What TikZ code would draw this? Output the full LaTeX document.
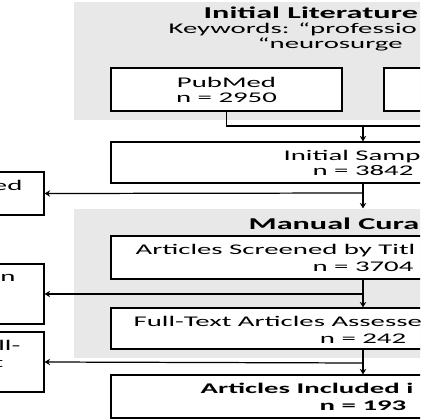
\documentclass[tikz,border=0pt]{standalone}
\usepackage{fontspec}
\setmainfont{Carlito}[FakeStretch=1.95]
\usetikzlibrary{arrows.meta, positioning, calc}

\begin{document}
\begin{tikzpicture}[x=0.02cm, y=-0.02cm, >={Stealth[length=1.1mm, width=1.3mm]}, line width=0.7pt,
    box/.style={draw, fill=white, inner sep=0pt},
    stage/.style={fill=stagegray, inner sep=0pt},
    lbl/.style={inner sep=0pt, font=\fontsize{8.4}{9}\selectfont},
    head/.style={inner sep=0pt, font=\fontsize{9.4}{10}\selectfont\bfseries}]
    \definecolor{stagegray}{HTML}{E8E8E8}

    \useasboundingbox (0,0) rectangle (420,420);
    \clip (0,0) rectangle (420,420);

    % -------------------------------------------------------------
    % Initial literature search
    % -------------------------------------------------------------
    \node[stage, minimum width=11.56cm, minimum height=2.36cm] (search) at (363,61) {};
    \node[head, anchor=base west] (searchT) at (203,18) {Initial Literature};
    \node[lbl, anchor=base west] (kw1) at (168,33) {Keywords: “professio};
    \node[lbl, anchor=base west] (kw2) at (257,48) {“neurosurge};

    \node[box, minimum width=4.62cm, minimum height=0.86cm] (pubmed) at (226.5,89.5) {};
    \node[lbl, anchor=base] (pubmedA) at (226.5,87) {PubMed};
    \node[lbl, anchor=base] (pubmedB) at (226.5,102) {n = 2950};
    \node[box, minimum width=4.62cm, minimum height=0.86cm] (db2) at (499.5,89.5) {};

    \node[box, minimum width=10.08cm, minimum height=0.82cm] (init) at (363,162.5) {};
    \node[lbl, anchor=base west] (initA) at (283,160) {Initial Samp};
    \node[lbl, anchor=base] (initB) at (363,175) {n = 3842};

    \coordinate (join) at (363,126);
    \draw (pubmed.south) |- (join) -| (db2.south);
    \draw[->] (join) -- (init.north);

    % -------------------------------------------------------------
    % Exclusion boxes (left)
    % -------------------------------------------------------------
    \node[box, minimum width=3.88cm, minimum height=0.86cm] (ex1) at (-53,193.5) {};
    \node[lbl, anchor=base east] (ex1T) at (23,190) {ed};
    \node[box, minimum width=3.88cm, minimum height=1.2cm] (ex2) at (-53,294) {};
    \node[lbl, anchor=base east] (ex2T) at (16,281) {en};
    \node[box, minimum width=3.88cm, minimum height=1.2cm] (ex3) at (-53,362) {};
    \node[lbl, anchor=base east] (ex3A) at (21,350) {ll-};
    \node[lbl, anchor=base east] (ex3B) at (4,367) {t};

    % -------------------------------------------------------------
    % Manual curation
    % -------------------------------------------------------------
    \node[stage, minimum width=11.56cm, minimum height=2.98cm] (cur) at (363,283.5) {};
    \node[head, anchor=base west] (curT) at (248,229) {Manual Cura};

    \node[box, minimum width=10.08cm, minimum height=0.86cm] (screen) at (363,257.5) {};
    \node[lbl, anchor=base west] (screenA) at (135,254) {Articles Screened by Titl};
    \node[lbl, anchor=base] (screenB) at (363,271) {n = 3704};

    \node[box, minimum width=10.08cm, minimum height=0.82cm] (full) at (363,328.5) {};
    \node[lbl, anchor=base west] (fullA) at (133,326) {Full-Text Articles Assesse};
    \node[lbl, anchor=base] (fullB) at (363,343) {n = 242};

    \node[box, minimum width=10.08cm, minimum height=0.86cm] (incl) at (363,396.5) {};
    \node[lbl, anchor=base west, font=\fontsize{8.4}{9}\selectfont\bfseries] (inclA) at (200,393) {Articles Included i};
    \node[lbl, anchor=base, font=\fontsize{8.4}{9}\selectfont\bfseries] (inclB) at (363,410) {n = 193};

    % connectors
    \coordinate (split1) at (363,193);
    \coordinate (split2) at (363,294);
    \coordinate (split3) at (363,363);
    \draw (init.south) -- (split1);
    \draw[->] (split1) -- (ex1.east);
    \draw[->] (split1) -- (cur.north);
    \draw (screen.south) -- (split2);
    \draw[->] (split2) -- (ex2.east);
    \draw[->] (split2) -- (full.north);
    \draw (full.south) -- (split3);
    \draw[->] (split3) -- (ex3.east);
    \draw[->] (split3) -- (incl.north);

\end{tikzpicture}
\end{document}
